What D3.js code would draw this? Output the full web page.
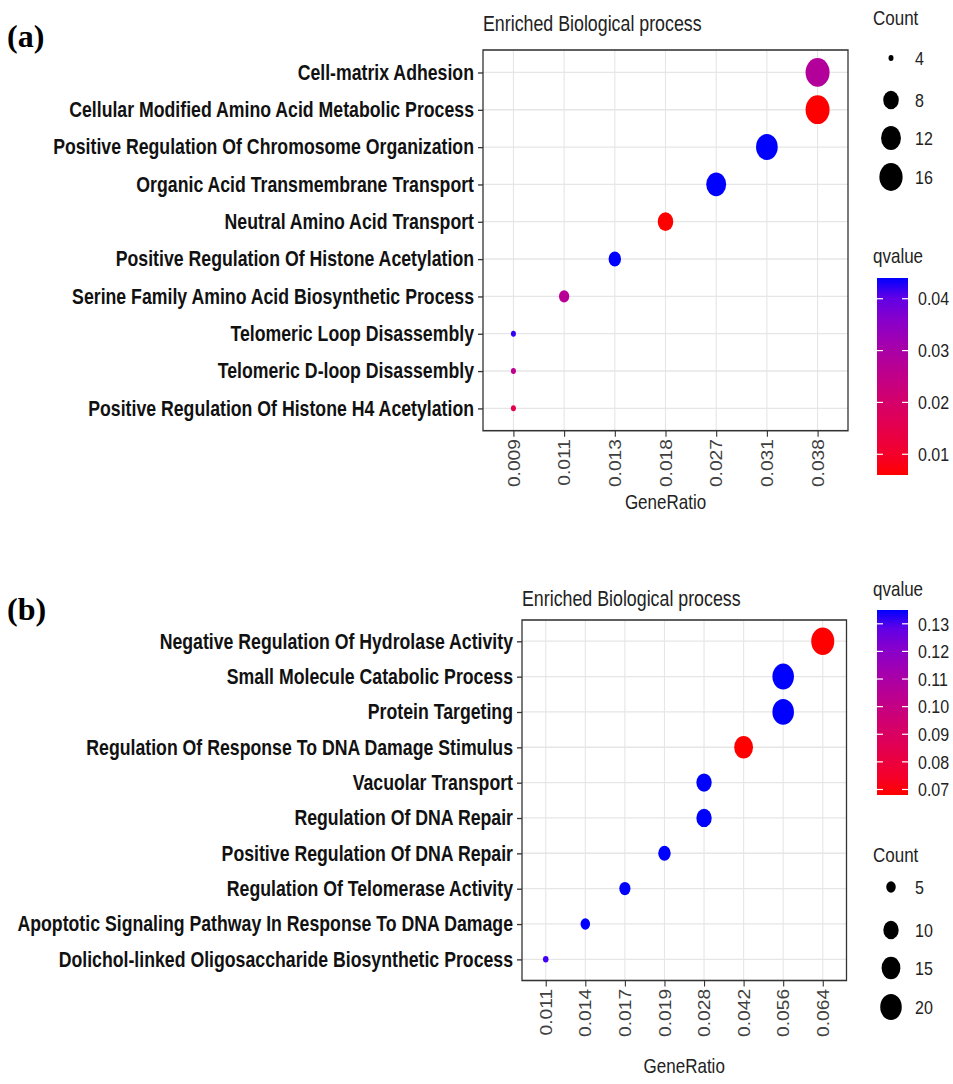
<!DOCTYPE html>
<html>
<head>
<meta charset="utf-8">
<script src="https://cdn.jsdelivr.net/npm/d3@7"></script>
<style>
  body { margin: 0; background: #fff; }
  svg text { font-family: "Liberation Sans", Arial, sans-serif; }
</style>
</head>
<body>
<div id="viz"></div>
<script>
// panel (a)
var aTerms = ["Cell-matrix Adhesion", "Cellular Modified Amino Acid Metabolic Process",
  "Positive Regulation Of Chromosome Organization", "Organic Acid Transmembrane Transport",
  "Neutral Amino Acid Transport", "Positive Regulation Of Histone Acetylation",
  "Serine Family Amino Acid Biosynthetic Process", "Telomeric Loop Disassembly",
  "Telomeric D-loop Disassembly", "Positive Regulation Of Histone H4 Acetylation"];
var aRatio = ["0.038", "0.038", "0.031", "0.027", "0.018", "0.013", "0.011", "0.009", "0.009", "0.009"];
var aCount = [17, 17, 14, 12, 8, 6, 5, 4, 4, 4];
var aQ = [0.028, 0.006, 0.044, 0.044, 0.006, 0.044, 0.027, 0.043, 0.026, 0.015];
var aRatioTicks = ["0.009", "0.011", "0.013", "0.018", "0.027", "0.031", "0.038"];
var aCountBreaks = [4, 8, 12, 16];
var aQBreaks = [0.01, 0.02, 0.03, 0.04];

// panel (b)
var bTerms = ["Negative Regulation Of Hydrolase Activity", "Small Molecule Catabolic Process",
  "Protein Targeting", "Regulation Of Response To DNA Damage Stimulus", "Vacuolar Transport",
  "Regulation Of DNA Repair", "Positive Regulation Of DNA Repair", "Regulation Of Telomerase Activity",
  "Apoptotic Signaling Pathway In Response To DNA Damage",
  "Dolichol-linked Oligosaccharide Biosynthetic Process"];
var bRatio = ["0.064", "0.056", "0.056", "0.042", "0.028", "0.028", "0.019", "0.017", "0.014", "0.011"];
var bCount = [23, 20, 20, 15, 10, 10, 7, 6, 5, 4];
var bQ = [0.068, 0.135, 0.135, 0.068, 0.135, 0.135, 0.135, 0.135, 0.135, 0.132];
var bRatioTicks = ["0.011", "0.014", "0.017", "0.019", "0.028", "0.042", "0.056", "0.064"];
var bCountBreaks = [5, 10, 15, 20];
var bQBreaks = [0.07, 0.08, 0.09, 0.10, 0.11, 0.12, 0.13];

var width = 953;
var height = 1084;
var K = 1.2; // the original figure is stretched vertically
function sy(v) { return v / K; }

var svg = d3.select("#viz").append("svg")
    .attr("width", width)
    .attr("height", height);

var defs = svg.append("defs");
var root = svg.append("g").attr("transform", "scale(1," + K + ")");

svg.append("text").attr("x", 7).attr("y", 47)
    .style("font-family", "'Liberation Serif', 'Times New Roman', serif")
    .style("font-weight", "bold").style("font-size", "32px").text("(a)");
svg.append("text").attr("x", 7).attr("y", 620)
    .style("font-family", "'Liberation Serif', 'Times New Roman', serif")
    .style("font-weight", "bold").style("font-size", "32px").text("(b)");

drawPanel({
  id: "a", terms: aTerms, ratio: aRatio, count: aCount, q: aQ, ticks: aRatioTicks,
  countBreaks: aCountBreaks, qBreaks: aQBreaks, qFormat: d3.format(".2f"),
  left: 483, right: 848, top: 50, bottom: 430.7, titleY: 31, xTitleY: 509,
  dmin: 5, dmax: 24,
  countTitleY: 25, countY: [58, 100, 138, 177],
  qTitleY: 263, barTop: 278, barBottom: 475
});

drawPanel({
  id: "b", terms: bTerms, ratio: bRatio, count: bCount, q: bQ, ticks: bRatioTicks,
  countBreaks: bCountBreaks, qBreaks: bQBreaks, qFormat: d3.format(".2f"),
  left: 522, right: 846.5, top: 620, bottom: 980.5, titleY: 606, xTitleY: 1073,
  dmin: 5.5, dmax: 23,
  countTitleY: 862, countY: [887, 930, 968, 1007],
  qTitleY: 596, barTop: 610, barBottom: 795
});

function drawPanel(p) {
  var g = root.append("g");
  var qExt = d3.extent(p.q);
  var cExt = d3.extent(p.count);

  var x = d3.scalePoint().domain(p.ticks).range([p.left, p.right]).padding(0.6);
  var y = d3.scalePoint().domain(p.terms).range([sy(p.top), sy(p.bottom)]).padding(0.6);
  var color = d3.scaleLinear().domain(qExt).range(["red", "blue"]).interpolate(d3.interpolateLab);
  var norm = d3.scaleLinear().domain(cExt).range([0, 1]).clamp(true);
  var diam = d3.scaleLinear().domain([0, 1]).range([p.dmin, p.dmax]);
  function radius(c) { return diam(Math.sqrt(norm(c))) / 2; }

  g.append("rect")
      .attr("x", p.left).attr("y", sy(p.top))
      .attr("width", p.right - p.left).attr("height", sy(p.bottom) - sy(p.top))
      .attr("fill", "#fff");

  g.selectAll(".vgrid").data(p.ticks).enter().append("line")
      .attr("x1", function(d) { return x(d); }).attr("x2", function(d) { return x(d); })
      .attr("y1", sy(p.top)).attr("y2", sy(p.bottom))
      .attr("stroke", "#e6e6e6").attr("stroke-width", 1.1);
  g.selectAll(".hgrid").data(p.terms).enter().append("line")
      .attr("x1", p.left).attr("x2", p.right)
      .attr("y1", function(d) { return y(d); }).attr("y2", function(d) { return y(d); })
      .attr("stroke", "#e6e6e6").attr("stroke-width", 1.1);

  g.selectAll(".dot").data(p.terms).enter().append("circle")
      .attr("cx", function(d, i) { return x(p.ratio[i]); })
      .attr("cy", function(d) { return y(d); })
      .attr("r", function(d, i) { return radius(p.count[i]); })
      .attr("fill", function(d, i) { return color(p.q[i]); });

  g.append("rect")
      .attr("x", p.left).attr("y", sy(p.top))
      .attr("width", p.right - p.left).attr("height", sy(p.bottom) - sy(p.top))
      .attr("fill", "none").attr("stroke", "#333").attr("stroke-width", 1.3);

  // y axis
  var ya = g.append("g").attr("transform", "translate(" + p.left + ",0)")
      .call(d3.axisLeft(y).tickSize(5).tickPadding(4));
  ya.select(".domain").remove();
  ya.selectAll(".tick line").attr("stroke", "#333").attr("stroke-width", 1.1);
  ya.selectAll(".tick text")
      .style("font-family", "'Liberation Sans', Arial, sans-serif")
      .style("font-size", "17.7px").style("font-weight", "bold").attr("fill", "#111");

  // x axis
  var xa = g.append("g").attr("transform", "translate(0," + sy(p.bottom) + ")")
      .call(d3.axisBottom(x).tickSize(5).tickPadding(3));
  xa.select(".domain").remove();
  xa.selectAll(".tick line").attr("stroke", "#333").attr("stroke-width", 1.1);
  xa.selectAll(".tick text")
      .style("font-family", "'Liberation Sans', Arial, sans-serif")
      .style("font-size", "16px").attr("fill", "#404040")
      .attr("text-anchor", "end")
      .attr("transform", "rotate(-90)")
      .attr("x", -7).attr("y", 0).attr("dy", "0.35em");

  g.append("text").attr("x", p.left).attr("y", sy(p.titleY))
      .style("font-size", "17.8px").attr("fill", "#222").text("Enriched Biological process");
  g.append("text").attr("x", (p.left + p.right) / 2).attr("y", sy(p.xTitleY))
      .attr("text-anchor", "middle")
      .style("font-size", "17px").attr("fill", "#222").text("GeneRatio");

  // size legend
  g.append("text").attr("x", 873).attr("y", sy(p.countTitleY))
      .style("font-size", "17px").attr("fill", "#222").text("Count");
  var cl = g.selectAll(".cleg").data(p.countBreaks).enter().append("g")
      .attr("transform", function(d, i) { return "translate(891," + sy(p.countY[i]) + ")"; });
  cl.append("circle").attr("r", function(d) { return radius(d); }).attr("fill", "#000");
  cl.append("text").attr("x", 24).attr("dy", "0.35em")
      .style("font-size", "16px").attr("fill", "#222").text(function(d) { return d; });

  // colour bar
  g.append("text").attr("x", 873).attr("y", sy(p.qTitleY))
      .style("font-size", "17px").attr("fill", "#222").text("qvalue");
  var grad = defs.append("linearGradient").attr("id", "grad-" + p.id)
      .attr("x1", 0).attr("y1", 1).attr("x2", 0).attr("y2", 0);
  d3.range(0, 1.0001, 0.1).forEach(function(t) {
    grad.append("stop").attr("offset", t)
        .attr("stop-color", color(qExt[0] + t * (qExt[1] - qExt[0])));
  });
  var bx0 = 877, bx1 = 908;
  g.append("rect").attr("x", bx0).attr("y", sy(p.barTop))
      .attr("width", bx1 - bx0).attr("height", sy(p.barBottom) - sy(p.barTop))
      .attr("fill", "url(#grad-" + p.id + ")");
  var qy = d3.scaleLinear().domain(qExt).range([sy(p.barBottom), sy(p.barTop)]);
  var ql = g.selectAll(".qleg").data(p.qBreaks).enter().append("g")
      .attr("transform", function(d) { return "translate(0," + qy(d) + ")"; });
  ql.append("line").attr("x1", bx0).attr("x2", bx0 + 6).attr("stroke", "#fff").attr("stroke-width", 1);
  ql.append("line").attr("x1", bx1 - 6).attr("x2", bx1).attr("stroke", "#fff").attr("stroke-width", 1);
  ql.append("text").attr("x", 918).attr("dy", "0.35em")
      .style("font-size", "16px").attr("fill", "#222").text(function(d) { return p.qFormat(d); });
}
</script>
</body>
</html>
